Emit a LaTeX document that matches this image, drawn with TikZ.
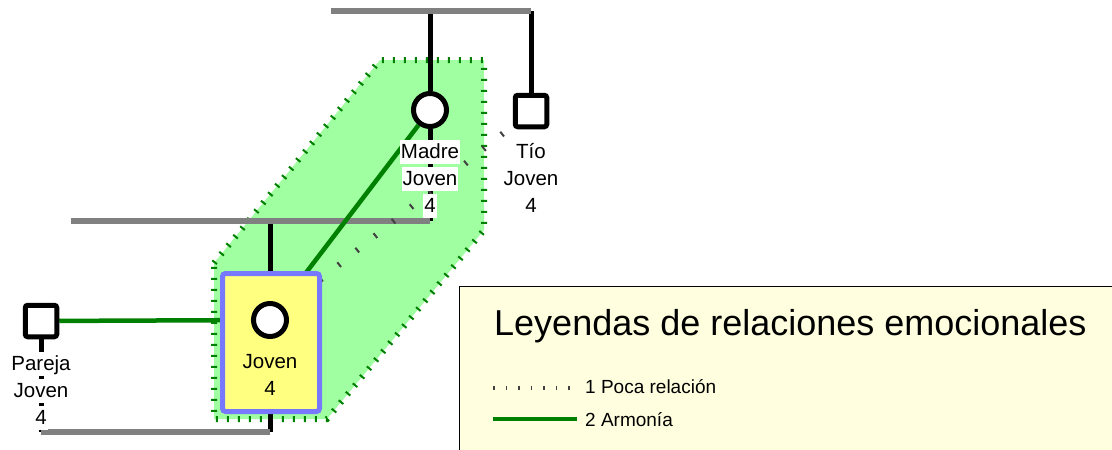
\documentclass[tikz,border=0pt]{standalone}
\usepackage{fontspec}
\setmainfont{Liberation Sans}
\pgfdeclarelayer{hexl}
\pgfdeclarelayer{bgl}
\pgfsetlayers{hexl,bgl,main}
\definecolor{hexfill}{HTML}{A0FFA0}
\definecolor{hexline}{HTML}{008000}
\definecolor{harmc}{HTML}{008000}
\definecolor{pocac}{HTML}{404040}
\definecolor{famgray}{HTML}{808080}
\definecolor{boxblue}{HTML}{7878FF}
\definecolor{boxyellow}{HTML}{FFFF80}
\definecolor{legfill}{HTML}{FFFFE0}
\begin{document}
\begin{tikzpicture}[x=1pt,y=-1pt,
  female/.style={circle,draw=black,fill=white,line width=5pt,minimum size=33pt,inner sep=0pt},
  male/.style={rectangle,draw=black,fill=white,line width=5pt,minimum size=31.5pt,inner sep=0pt,rounded corners=2.5pt},
  lbl/.style={font=\fontsize{20.5}{24}\selectfont,fill=white,inner xsep=1pt,inner ysep=2pt,text height=16pt,text depth=4pt,anchor=base},
  lblplain/.style={font=\fontsize{20.5}{24}\selectfont,inner sep=0pt,anchor=base},
  focusbox/.style={rectangle,draw=boxblue,fill=boxyellow,line width=5pt,minimum width=97pt,minimum height=138pt,rounded corners=3pt,inner sep=0pt},
  kinline/.style={draw=black,line width=5pt},
  couple/.style={draw=famgray,line width=5.5pt},
  harmony/.style={draw=harmc,line width=4.5pt},
  poca/.style={draw=pocac,line width=6pt,dash pattern=on 2pt off 21.2pt,dash phase=1pt},
  legpoca/.style={draw=pocac,line width=4.5pt,dash pattern=on 1.5pt off 11pt},
  zone/.style={fill=hexfill},
  zoneedge/.style={draw=hexline,line width=6pt,dash pattern=on 2pt off 9pt},
  legbox/.style={fill=legfill,draw=black,line width=1.5pt}
]
\useasboundingbox (0,0) rectangle (1112,450);
\clip (0,0) rectangle (1112,450);

% nodes
\node[female] (madre) at (430,110) {};
\node[male] (tio) at (531,111) {};
\node[male] (pareja) at (41,321) {};
\node[focusbox] (jbox) at (271,342.5) {};
\node[female] (joven) at (270,320) {};

% labels
\node[lbl] (madreA) at (430,158) {Madre};
\node[lbl] (madreB) at (430,185) {Joven};
\node[lbl] (madreC) at (430,212) {4};
\node[lblplain] (tioA) at (531,158) {Tío};
\node[lblplain] (tioB) at (531,185) {Joven};
\node[lblplain] (tioC) at (531,212) {4};
\node[lbl] (parejaA) at (41,370) {Pareja};
\node[lbl] (parejaB) at (41,397) {Joven};
\node[lbl] (parejaC) at (41,424) {4};
\node[lblplain] (jovenA) at (270,368) {Joven};
\node[lblplain] (jovenB) at (270,395) {4};

% family structure coordinates
\coordinate (sibL) at (331,11);
\coordinate (parL) at (71,221);
\coordinate (cplY) at (41,432);

\begin{pgfonlayer}{hexl}
  \path[zone] (214,263) -- (380,60) -- (484,60) -- (484,230) -- (327,419) -- (214,419) -- cycle;
  \path[zoneedge] (214,263) -- (380,60) -- (484,60) -- (484,230) -- (327,419) -- (214,419) -- cycle;
\end{pgfonlayer}

\begin{pgfonlayer}{bgl}
  % black descent lines
  \draw[kinline] (madre) -- (madre |- sibL);
  \draw[kinline] (tio) -- (tio |- sibL);
  \draw[kinline] (madre) -- (madre |- parL);
  \draw[kinline] (joven |- parL) -- (joven |- cplY);
  \draw[kinline] (pareja) -- (pareja |- cplY);
  % gray lines
  \draw[couple] (sibL) -- (tio |- sibL);
  \draw[couple] (parL) -- (madre |- parL);
  \draw[couple] (cplY) -- (joven |- cplY);
  % emotional relations
  \draw[harmony] (pareja) -- (joven);
  \draw[harmony] (madre) -- (joven);
  \draw[poca] (joven) -- (tio);
\end{pgfonlayer}

% legend
\path[legbox] (459.5,286.5) rectangle (1125,465);
\node[anchor=base west,inner sep=0pt,font=\fontsize{36}{40}\selectfont] (legtitle) at (494,335) {Leyendas de relaciones emocionales};
\coordinate (lp1) at (493,388);
\coordinate (lp2) at (570,388);
\draw[legpoca] (lp1) -- (lp2);
\node[anchor=base west,inner sep=0pt,font=\fontsize{19}{22}\selectfont] (legpocatxt) at (585,393) {1 Poca relación};
\coordinate (lh1) at (493,419);
\coordinate (lh2) at (577,419);
\draw[harmony] (lh1) -- (lh2);
\node[anchor=base west,inner sep=0pt,font=\fontsize{19}{22}\selectfont] (legharmtxt) at (585,426) {2 Armonía};
\end{tikzpicture}
\end{document}
